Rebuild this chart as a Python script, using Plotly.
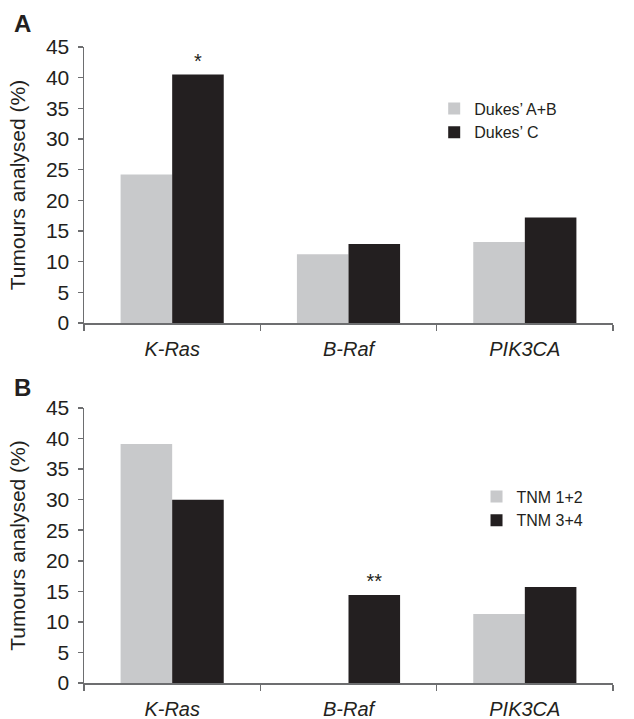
import plotly.graph_objects as go

genes = ["K-Ras", "B-Raf", "PIK3CA"]
gene_labels = ["<i>K-Ras</i>", "<i>B-Raf</i>", "<i>PIK3CA</i>"]

dukes_ab = [24.2, 11.2, 13.2]
dukes_c = [40.5, 12.9, 17.2]
dukes_c_sig = ["*", "", ""]

tnm_12 = [39.1, 0.0, 11.3]
tnm_34 = [30.0, 14.4, 15.7]
tnm_34_sig = ["", "**", ""]

y_ticks = [0, 5, 10, 15, 20, 25, 30, 35, 40, 45]

LIGHT = "#c8c9cb"
DARK = "#231f20"
AXIS = "#6d6e70"
FONT = "Liberation Sans, Arial, sans-serif"

fig = go.Figure()

fig.add_trace(go.Bar(x=genes, y=dukes_ab, name="Dukes’ A+B", marker=dict(color=LIGHT, line=dict(width=0)),
                     xaxis="x", yaxis="y", legend="legend"))
fig.add_trace(go.Bar(x=genes, y=dukes_c, name="Dukes’ C", marker=dict(color=DARK, line=dict(width=0)),
                     text=dukes_c_sig, textposition="outside", textfont=dict(size=20, color="#231f20"),
                     cliponaxis=False, xaxis="x", yaxis="y", legend="legend"))
fig.add_trace(go.Bar(x=genes, y=tnm_12, name="TNM 1+2", marker=dict(color=LIGHT, line=dict(width=0)),
                     xaxis="x2", yaxis="y2", legend="legend2"))
fig.add_trace(go.Bar(x=genes, y=tnm_34, name="TNM 3+4", marker=dict(color=DARK, line=dict(width=0)),
                     text=tnm_34_sig, textposition="outside", textfont=dict(size=20, color="#231f20"),
                     cliponaxis=False, xaxis="x2", yaxis="y2", legend="legend2"))

xax = dict(
    tickmode="array", tickvals=genes, ticktext=gene_labels,
    tickson="boundaries", ticks="outside", ticklen=6, tickcolor=AXIS, tickwidth=1.5,
    showline=True, linecolor=AXIS, linewidth=1.5, showgrid=False, zeroline=False,
    tickfont=dict(size=20, color="#231f20", family=FONT), ticklabelstandoff=7,
    fixedrange=True, automargin=False,
)
yax = dict(
    range=[0, 45], tickvals=y_ticks, ticks="outside", ticklen=5, tickcolor=AXIS, tickwidth=1.5,
    showline=True, linecolor=AXIS, linewidth=1.5, showgrid=False, zeroline=False,
    tickfont=dict(size=21, color="#231f20", family=FONT), ticklabelstandoff=4,
    title=dict(text="Tumours analysed (%)", font=dict(size=21, color="#231f20", family=FONT), standoff=14),
    fixedrange=True, automargin=False,
)

fig.update_layout(
    width=634, height=719,
    margin=dict(l=84, r=21, t=47, b=36, autoexpand=False),
    paper_bgcolor="white", plot_bgcolor="white",
    font=dict(family=FONT, color="#231f20"),
    barmode="group", bargap=0.415, bargroupgap=0,
    xaxis=dict(xax, domain=[0, 1], anchor="y"),
    yaxis=dict(yax, domain=[0.566, 1], anchor="x"),
    xaxis2=dict(xax, domain=[0, 1], anchor="y2"),
    yaxis2=dict(yax, domain=[0, 0.4324], anchor="x2"),
    legend=dict(x=0.662, y=0.93, xanchor="left", yanchor="top", font=dict(size=16, family=FONT),
                bgcolor="rgba(0,0,0,0)", tracegroupgap=0, itemwidth=30),
    legend2=dict(x=0.742, y=0.32, xanchor="left", yanchor="top", font=dict(size=16, family=FONT),
                 bgcolor="rgba(0,0,0,0)", tracegroupgap=0, itemwidth=30),
    showlegend=True,
)

fig.add_annotation(text="<b>A</b>", xref="paper", yref="paper", x=-0.136, y=1.037, xanchor="left", yanchor="middle",
                   showarrow=False, font=dict(size=24, family=FONT, color="#231f20"))
fig.add_annotation(text="<b>B</b>", xref="paper", yref="paper", x=-0.136, y=0.465, xanchor="left", yanchor="middle",
                   showarrow=False, font=dict(size=24, family=FONT, color="#231f20"))

fig.write_html("out.html",
               config={"displayModeBar": False, "staticPlot": True},
               post_script="document.body.style.margin='0';document.body.style.overflow='hidden';")
